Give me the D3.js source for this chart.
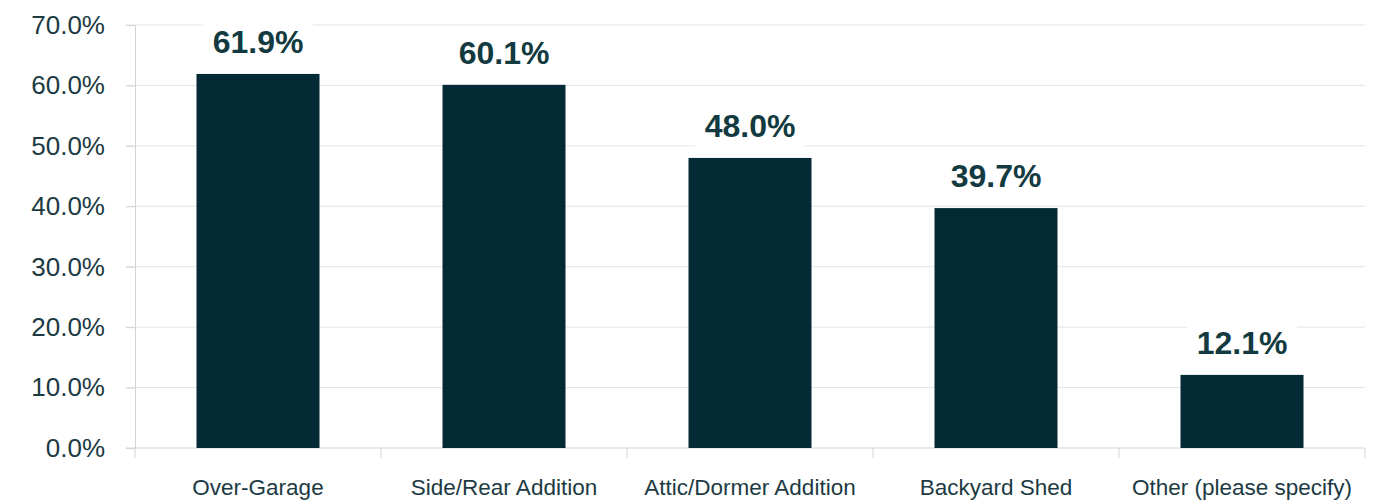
<!DOCTYPE html>
<html>
<head>
<meta charset="utf-8">
<script src="https://cdn.jsdelivr.net/npm/d3@7"></script>
<style>
  body { margin: 0; background: #fff; }
  .tick text { font-family: "Liberation Sans", Arial, sans-serif; fill: #1c3a42; }
</style>
</head>
<body>
<div class="chart"></div>
<script>
// chart data
var categories = ["Over-Garage", "Side/Rear Addition", "Attic/Dormer Addition", "Backyard Shed", "Other (please specify)"];
var values = [61.9, 60.1, 48.0, 39.7, 12.1];
var yTicks = [0, 10, 20, 30, 40, 50, 60, 70];

var svgWidth = 1382;
var svgHeight = 500;

var margin = { top: 25, right: 17, bottom: 52, left: 135 };
var width = svgWidth - margin.left - margin.right;
var height = svgHeight - margin.top - margin.bottom;

var svg = d3.select(".chart")
  .append("svg")
  .attr("width", svgWidth)
  .attr("height", svgHeight);

var chartGroup = svg.append("g")
  .attr("transform", `translate(${margin.left}, ${margin.top})`);

var data = categories.map((c, i) => ({ cat: c, val: values[i] }));

var xScale = d3.scaleBand()
  .domain(categories)
  .range([0, width])
  .paddingInner(0.5)
  .paddingOuter(0.25);

var yScale = d3.scaleLinear()
  .domain([0, 70])
  .range([height, 0]);

// gridlines
chartGroup.append("g")
  .selectAll("line")
  .data(yTicks.slice(1))
  .enter()
  .append("line")
  .attr("x1", -9)
  .attr("x2", width)
  .attr("y1", d => yScale(d))
  .attr("y2", d => yScale(d))
  .attr("stroke", "#e4e4e4")
  .attr("stroke-width", 1);

// y axis
var leftAxis = d3.axisLeft(yScale)
  .tickValues(yTicks)
  .tickSize(9)
  .tickPadding(21)
  .tickFormat(d => d.toFixed(1) + "%");

var yAxis = chartGroup.append("g").call(leftAxis);
yAxis.select(".domain").attr("stroke", "#d4d4d4");
yAxis.selectAll(".tick line").attr("stroke", "#d4d4d4");
yAxis.selectAll(".tick text").style("font-size", "26px");

// x axis with ticks between categories
var step = xScale.step();
var xAxisG = chartGroup.append("g")
  .attr("transform", `translate(0, ${height})`);

xAxisG.append("line")
  .attr("x1", -9)
  .attr("x2", width)
  .attr("stroke", "#d4d4d4");

xAxisG.selectAll(".sep")
  .data(d3.range(categories.length + 1))
  .enter()
  .append("line")
  .attr("class", "sep")
  .attr("x1", i => i * step)
  .attr("x2", i => i * step)
  .attr("y1", 0)
  .attr("y2", 10)
  .attr("stroke", "#d4d4d4");

xAxisG.selectAll(".catLabel")
  .data(categories)
  .enter()
  .append("text")
  .attr("class", "catLabel")
  .attr("x", d => xScale(d) + xScale.bandwidth() / 2)
  .attr("y", 47)
  .attr("text-anchor", "middle")
  .style("font-family", "Liberation Sans, Arial, sans-serif")
  .style("font-size", "22.5px")
  .attr("fill", "#1c3a42")
  .text(d => d);

// bars
chartGroup.selectAll(".bar")
  .data(data)
  .enter()
  .append("rect")
  .attr("class", "bar")
  .attr("x", d => xScale(d.cat))
  .attr("y", d => yScale(d.val))
  .attr("width", xScale.bandwidth())
  .attr("height", d => height - yScale(d.val))
  .attr("fill", "#032a35");

// value labels with white backing
var labels = chartGroup.selectAll(".valLabel")
  .data(data)
  .enter()
  .append("g")
  .attr("class", "valLabel")
  .attr("transform", d => `translate(${xScale(d.cat) + xScale.bandwidth() / 2}, ${yScale(d.val) - 21})`);

labels.append("rect")
  .attr("x", -55)
  .attr("y", -34)
  .attr("width", 110)
  .attr("height", 44)
  .attr("fill", "#fff");

labels.append("text")
  .attr("text-anchor", "middle")
  .style("font-family", "Liberation Sans, Arial, sans-serif")
  .style("font-size", "32px")
  .style("font-weight", "bold")
  .attr("fill", "#123a40")
  .text(d => d.val.toFixed(1) + "%");
</script>
</body>
</html>
